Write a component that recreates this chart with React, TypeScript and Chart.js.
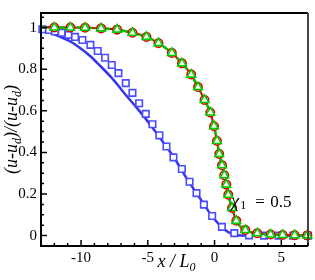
import React, { useEffect, useRef } from "react";
import { Chart, registerables } from "chart.js";

Chart.register(...registerables);

// ---- tick labels ----
const xTicks = [-10, -5, 0, 5];
const yTicks = [0, 0.2, 0.4, 0.6, 0.8, 1];

// ---- blue solid line ----
const blueLineX = [-13, -12.5, -11.6, -10.8, -10.1, -9.3, -8.6, -7.8, -7.1, -6.6, -5.9, -5.3, -4.7, -4.1, -3.5, -3.0, -2.1, -1.1, -0.1, 0.7, 1.3, 1.9, 3.0, 5.0, 7.0];
const blueLineY = [0.985, 0.978, 0.957, 0.933, 0.903, 0.862, 0.818, 0.765, 0.712, 0.672, 0.62, 0.573, 0.523, 0.471, 0.418, 0.372, 0.276, 0.18, 0.086, 0.032, 0.008, 0.0, 0.0, 0.0, 0.0];

// ---- blue squares ----
const squareX = [-12.9, -12.4, -11.95, -11.45, -10.95, -10.45, -9.9, -9.3, -8.75, -8.2, -7.7, -7.2, -6.65, -6.15, -5.65, -5.15, -4.65, -4.13, -3.6, -3.08, -2.45, -1.87, -1.35, -0.8, -0.18, 0.55, 1.48, 2.58, 3.7, 4.8, 5.9, 7.0];
const squareY = [0.992, 0.988, 0.981, 0.975, 0.965, 0.955, 0.94, 0.917, 0.887, 0.855, 0.82, 0.781, 0.733, 0.686, 0.636, 0.585, 0.535, 0.482, 0.428, 0.376, 0.32, 0.259, 0.204, 0.149, 0.094, 0.042, 0.012, 0.001, 0.0, 0.0, 0.0, 0.0];

// ---- red / green curve (lines) ----
const curveX = [-13, -12, -10.8, -9.7, -8.5, -7.3, -6.15, -5.1, -4.2, -3.2, -2.44, -1.75, -1.24, -0.75, -0.32, -0.04, 0.18, 0.35, 0.56, 0.73, 0.88, 1.03, 1.31, 1.63, 2.3, 3.2, 4.2, 5.1, 6.0, 7.0];
const curveY = [1.0, 1.0, 1.0, 0.999, 0.996, 0.99, 0.975, 0.955, 0.925, 0.878, 0.828, 0.774, 0.714, 0.652, 0.592, 0.526, 0.455, 0.392, 0.338, 0.29, 0.245, 0.196, 0.133, 0.071, 0.027, 0.011, 0.005, 0.003, 0.002, 0.001];

// ---- red circles / green triangles ----
const markerX = [-12, -10.8, -9.7, -8.5, -7.3, -6.15, -5.1, -4.2, -3.2, -2.44, -1.75, -1.24, -0.75, -0.32, -0.04, 0.18, 0.35, 0.56, 0.73, 0.88, 1.03, 1.31, 1.63, 2.3, 3.2, 4.2, 5.1, 6.0, 6.95];
const circleY = [1.0, 1.0, 0.999, 0.996, 0.99, 0.975, 0.955, 0.925, 0.878, 0.828, 0.774, 0.714, 0.652, 0.592, 0.526, 0.455, 0.392, 0.338, 0.29, 0.245, 0.196, 0.133, 0.071, 0.027, 0.011, 0.005, 0.003, 0.002, 0.001];
const triangleY = [1.0, 1.0, 0.999, 0.996, 0.99, 0.975, 0.955, 0.925, 0.878, 0.828, 0.774, 0.714, 0.652, 0.592, 0.526, 0.455, 0.392, 0.338, 0.29, 0.245, 0.196, 0.133, 0.071, 0.027, 0.011, 0.005, 0.003, 0.002, 0.001];

const annotationPos = { x: 1.25, y: 0.16 };

const SERIF = "'Liberation Serif', 'Times New Roman', serif";
const FILL = "#ffffff";

const zip = (xs: number[], ys: number[]) => xs.map((x, i) => ({ x, y: ys[i] }));

type Seg = { text: string; font: string; dy: number };

function drawSegs(ctx: CanvasRenderingContext2D, segs: Seg[], x: number, y: number, align: "center" | "left") {
  let total = 0;
  segs.forEach((s) => {
    ctx.font = s.font;
    total += ctx.measureText(s.text).width;
  });
  let cx = align === "center" ? x - total / 2 : x;
  segs.forEach((s) => {
    ctx.font = s.font;
    ctx.fillText(s.text, cx, y + s.dy);
    cx += ctx.measureText(s.text).width;
  });
}

const decorPlugin = {
  id: "decor",
  afterDatasetsDraw(chart: any) {
    const { ctx, chartArea } = chart;
    const xs = chart.scales.x;
    const ys = chart.scales.y;
    const { left, right, top, bottom } = chartArea;
    ctx.save();
    // frame
    ctx.lineWidth = 2;
    ctx.strokeStyle = "#000";
    ctx.beginPath();
    ctx.moveTo(right, top);
    ctx.lineTo(left, top);
    ctx.lineTo(left, bottom);
    ctx.lineTo(right, bottom);
    ctx.stroke();
    ctx.strokeStyle = "#444";
    ctx.beginPath();
    ctx.moveTo(right, top);
    ctx.lineTo(right, bottom);
    ctx.stroke();

    // ticks (inward)
    ctx.strokeStyle = "#000";
    ctx.lineWidth = 1.5;
    ctx.beginPath();
    for (let i = 0; i <= 21; i++) {
      const v = i * 0.05;
      const py = ys.getPixelForValue(v);
      const major = i % 4 === 0;
      ctx.moveTo(left, py);
      ctx.lineTo(left + (major ? 6 : 3), py);
    }
    for (let v = -13; v <= 7; v++) {
      const px = xs.getPixelForValue(v);
      const major = v % 5 === 0;
      ctx.moveTo(px, bottom);
      ctx.lineTo(px, bottom - (major ? 6 : 3));
    }
    ctx.stroke();

    ctx.fillStyle = "#000";
    ctx.textBaseline = "alphabetic";
    ctx.textAlign = "left";
    const it = `italic 18px ${SERIF}`;
    const itSub = `italic 12px ${SERIF}`;

    // x title
    drawSegs(
      ctx,
      [
        { text: "x / L", font: it, dy: 0 },
        { text: "0", font: itSub, dy: 4 },
      ],
      (left + right) / 2 + 2,
      267,
      "center"
    );

    // y title
    ctx.save();
    ctx.translate(17, (top + bottom) / 2);
    ctx.rotate(-Math.PI / 2);
    drawSegs(
      ctx,
      [
        { text: "(u-u", font: it, dy: 0 },
        { text: "d", font: itSub, dy: 4 },
        { text: ")/(u-u", font: it, dy: 0 },
        { text: "d", font: itSub, dy: 4 },
        { text: ")", font: it, dy: 0 },
      ],
      0,
      0,
      "center"
    );
    ctx.restore();

    // annotation
    const ax = xs.getPixelForValue(annotationPos.x);
    const ay = ys.getPixelForValue(annotationPos.y) + 5;
    ctx.font = `italic 18px ${SERIF}`;
    ctx.fillText("\u03C7", ax, ay);
    const cw = ctx.measureText("\u03C7").width;
    ctx.font = `12px ${SERIF}`;
    ctx.fillText("1", ax + cw + 1, ay + 2);
    ctx.font = `17px ${SERIF}`;
    ctx.fillText("=", ax + 24, ay);
    ctx.fillText("0.5", ax + 39, ay);

    ctx.restore();
  },
};

export default function App() {
  const ref = useRef<HTMLCanvasElement | null>(null);

  useEffect(() => {
    document.body.style.margin = "0";
    if (!ref.current) return;
    const chart = new Chart(ref.current, {
      type: "scatter",
      data: {
        datasets: [
          {
            data: zip(markerX, triangleY),
            pointStyle: "triangle",
            pointRadius: 5,
            borderColor: "#00cc00",
            pointBorderColor: "#00cc00",
            backgroundColor: FILL,
            pointBackgroundColor: FILL,
            pointBorderWidth: 1.6,
            showLine: false,
            clip: false as any,
            order: 0,
          },
          {
            data: zip(markerX, circleY),
            pointStyle: "circle",
            pointRadius: 4.2,
            borderColor: "#e00000",
            pointBorderColor: "#e00000",
            backgroundColor: FILL,
            pointBackgroundColor: FILL,
            pointBorderWidth: 1.6,
            showLine: false,
            clip: false as any,
            order: 1,
          },
          {
            data: zip(curveX, curveY),
            showLine: true,
            pointRadius: 0,
            borderColor: "#00c000",
            borderWidth: 2.5,
            borderDash: [6, 3],
            cubicInterpolationMode: "monotone",
            order: 2,
          },
          {
            data: zip(curveX, curveY),
            showLine: true,
            pointRadius: 0,
            borderColor: "#e00000",
            borderWidth: 2,
            cubicInterpolationMode: "monotone",
            order: 3,
          },
          {
            data: zip(squareX, squareY),
            pointStyle: "rect",
            pointRadius: 4.6,
            borderColor: "#4a4aff",
            pointBorderColor: "#4a4aff",
            backgroundColor: FILL,
            pointBackgroundColor: FILL,
            pointBorderWidth: 1.6,
            showLine: false,
            clip: false as any,
            order: 4,
          },
          {
            data: zip(blueLineX, blueLineY),
            showLine: true,
            pointRadius: 0,
            borderColor: "#3535ee",
            borderWidth: 2.5,
            cubicInterpolationMode: "monotone",
            order: 5,
          },
        ] as any,
      },
      options: {
        responsive: false,
        animation: false,
        devicePixelRatio: 1,
        layout: { padding: { left: 0, right: 7, top: 8, bottom: 0 } },
        plugins: { legend: { display: false }, tooltip: { enabled: false } },
        scales: {
          x: {
            type: "linear",
            min: -13,
            max: 7,
            grid: { display: false, drawTicks: false },
            border: { display: false },
            ticks: {
              color: "#000",
              font: { family: SERIF, size: 15 },
              padding: 3,
              autoSkip: false,
              maxRotation: 0,
              callback: (v: any) => String(v),
            },
            afterBuildTicks: (s: any) => {
              s.ticks = xTicks.map((v) => ({ value: v }));
            },
            afterFit: (s: any) => {
              s.height = 34;
            },
          },
          y: {
            type: "linear",
            min: -0.05,
            max: 1.07,
            grid: { display: false, drawTicks: false },
            border: { display: false },
            ticks: {
              color: "#000",
              font: { family: SERIF, size: 15 },
              padding: 4,
              autoSkip: false,
              callback: (v: any) => String(v),
            },
            afterBuildTicks: (s: any) => {
              s.ticks = yTicks.map((v) => ({ value: v }));
            },
            afterFit: (s: any) => {
              s.width = 41;
            },
          },
        },
      } as any,
      plugins: [decorPlugin],
    });
    return () => chart.destroy();
  }, []);

  return (
    <div style={{ position: "fixed", left: 0, top: 0, width: 315, height: 280, background: "#fff" }}>
      <canvas ref={ref} width={315} height={280} style={{ width: 315, height: 280, display: "block" }} />
    </div>
  );
}
